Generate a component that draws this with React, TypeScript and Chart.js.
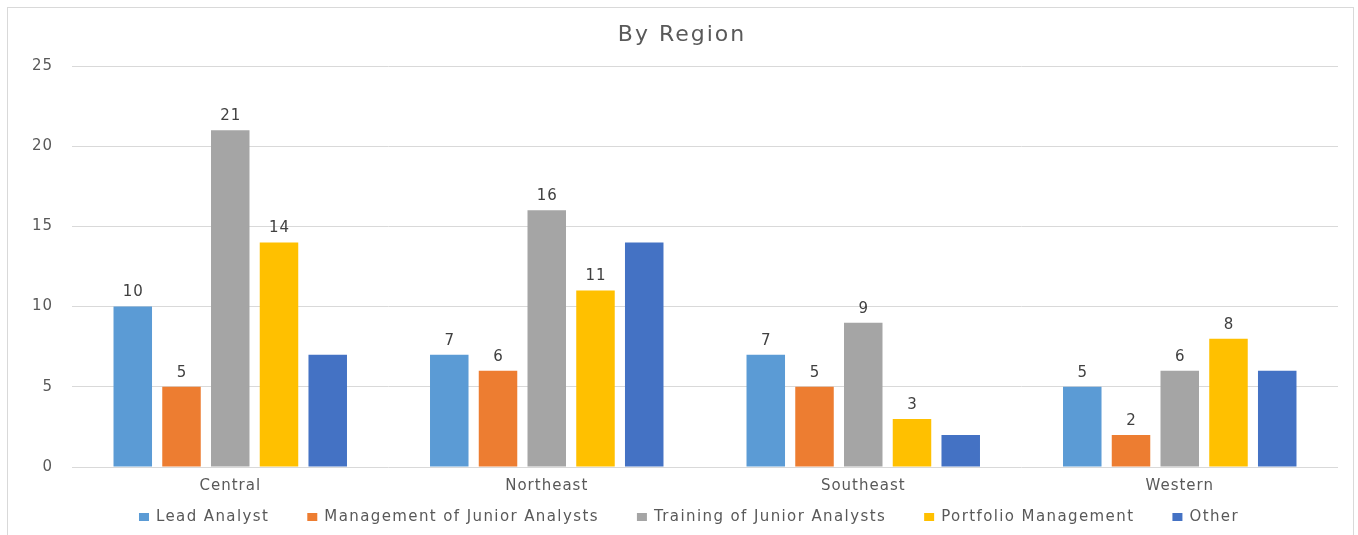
import React, { useEffect, useRef } from "react";
import { Chart, registerables } from "chart.js";

Chart.register(...registerables);

const chartTitle = "By Region";
const categories = ["Central", "Northeast", "Southeast", "Western"];
const seriesNames = [
  "Lead Analyst",
  "Management of Junior Analysts",
  "Training of Junior Analysts",
  "Portfolio Management",
  "Other",
];
const leadAnalyst = [10, 7, 7, 5];
const managementOfJuniorAnalysts = [5, 6, 5, 2];
const trainingOfJuniorAnalysts = [21, 16, 9, 6];
const portfolioManagement = [14, 11, 3, 8];
const other = [7, 14, 2, 6];
const seriesValues = [
  leadAnalyst,
  managementOfJuniorAnalysts,
  trainingOfJuniorAnalysts,
  portfolioManagement,
  other,
];
const seriesColors = ["#5B9BD5", "#ED7D31", "#A5A5A5", "#FFC000", "#4472C4"];
const showValueLabels = [true, true, true, true, false];
const yMin = 0;
const yMax = 25;
const yStep = 5;

const FONT = '"DejaVu Sans", sans-serif';
const FONT_SIZE = 15;
const SPACING = "1px";
const LEGEND_SPACING = "1.4px";
const TEXT = "#595959";

const setSpacing = (chart: any) => {
  (chart.ctx as any).letterSpacing = SPACING;
};

const spacingPlugin = {
  id: "spacing",
  beforeUpdate: setSpacing,
  beforeLayout: setSpacing,
  beforeDraw: setSpacing,
};

const decorPlugin = {
  id: "decor",
  afterDatasetsDraw(chart: any) {
    const ctx = chart.ctx;
    ctx.save();
    (ctx as any).letterSpacing = SPACING;
    ctx.font = `${FONT_SIZE}px ${FONT}`;
    ctx.fillStyle = "#404040";
    ctx.textAlign = "center";
    ctx.textBaseline = "middle";
    chart.data.datasets.forEach((ds: any, i: number) => {
      if (!showValueLabels[i]) return;
      const meta = chart.getDatasetMeta(i);
      meta.data.forEach((bar: any, j: number) => {
        ctx.fillText(String(ds.data[j]), bar.x + 0.5, bar.y - 14);
      });
    });
    ctx.restore();
  },
  afterDraw(chart: any) {
    const ctx = chart.ctx;
    ctx.save();
    // title
    (ctx as any).letterSpacing = "2px";
    ctx.font = `22px ${FONT}`;
    ctx.fillStyle = TEXT;
    ctx.textAlign = "center";
    ctx.textBaseline = "middle";
    ctx.fillText(chartTitle, chart.width / 2 + 3, 35);
    // legend
    (ctx as any).letterSpacing = LEGEND_SPACING;
    ctx.font = `${FONT_SIZE}px ${FONT}`;
    ctx.textAlign = "left";
    const widths = seriesNames.map((n) => ctx.measureText(n).width);
    const box = 10;
    const gap = 7;
    const itemGap = 38;
    let total = 0;
    widths.forEach((w, i) => {
      total += box + gap + w + (i < widths.length - 1 ? itemGap : 0);
    });
    let x = chart.width / 2 + 10 - total / 2;
    const y = 517;
    seriesNames.forEach((name, i) => {
      ctx.fillStyle = seriesColors[i];
      ctx.fillRect(x, y - 4, box, 8);
      ctx.fillStyle = TEXT;
      ctx.fillText(name, x + box + gap, y);
      x += box + gap + widths[i] + itemGap;
    });
    ctx.restore();
  },
};

export default function App() {
  const ref = useRef<HTMLCanvasElement>(null);

  useEffect(() => {
    if (!ref.current) return;
    const chart = new Chart(ref.current, {
      type: "bar",
      data: {
        labels: categories,
        datasets: seriesNames.map((name, i) => ({
          label: name,
          data: seriesValues[i],
          backgroundColor: seriesColors[i],
          borderWidth: 0,
          categoryPercentage: 0.77,
          barPercentage: 0.79,
        })),
      },
      options: {
        animation: false,
        responsive: false,
        maintainAspectRatio: false,
        devicePixelRatio: 1,
        layout: { padding: { top: 66, right: 20, bottom: 38, left: 0 } },
        plugins: {
          legend: { display: false },
          title: { display: false },
          tooltip: { enabled: false },
        },
        scales: {
          x: {
            grid: { display: false, drawTicks: false },
            border: { display: false },
            ticks: {
              color: TEXT,
              font: { family: FONT, size: FONT_SIZE },
              padding: 10,
            },
            afterFit: (s: any) => {
              s.height = 30;
            },
          },
          y: {
            min: yMin,
            max: yMax,
            grid: { color: "#D9D9D9", drawTicks: false, lineWidth: 1 },
            border: { display: false },
            ticks: {
              stepSize: yStep,
              color: TEXT,
              font: { family: FONT, size: FONT_SIZE },
              padding: 19,
            },
            afterFit: (s: any) => {
              s.width = 72;
            },
          },
        },
      },
      plugins: [spacingPlugin, decorPlugin],
    });
    return () => chart.destroy();
  }, []);

  return (
    <div
      style={{
        position: "fixed",
        left: 0,
        top: 0,
        width: 1358,
        height: 535,
        overflow: "hidden",
        background: "#fff",
      }}
    >
      <canvas ref={ref} width={1358} height={535} style={{ display: "block" }} />
      <div
        style={{
          position: "absolute",
          left: 7,
          top: 7,
          width: 1347,
          height: 560,
          border: "1px solid #D9D9D9",
          boxSizing: "border-box",
          pointerEvents: "none",
        }}
      />
    </div>
  );
}
